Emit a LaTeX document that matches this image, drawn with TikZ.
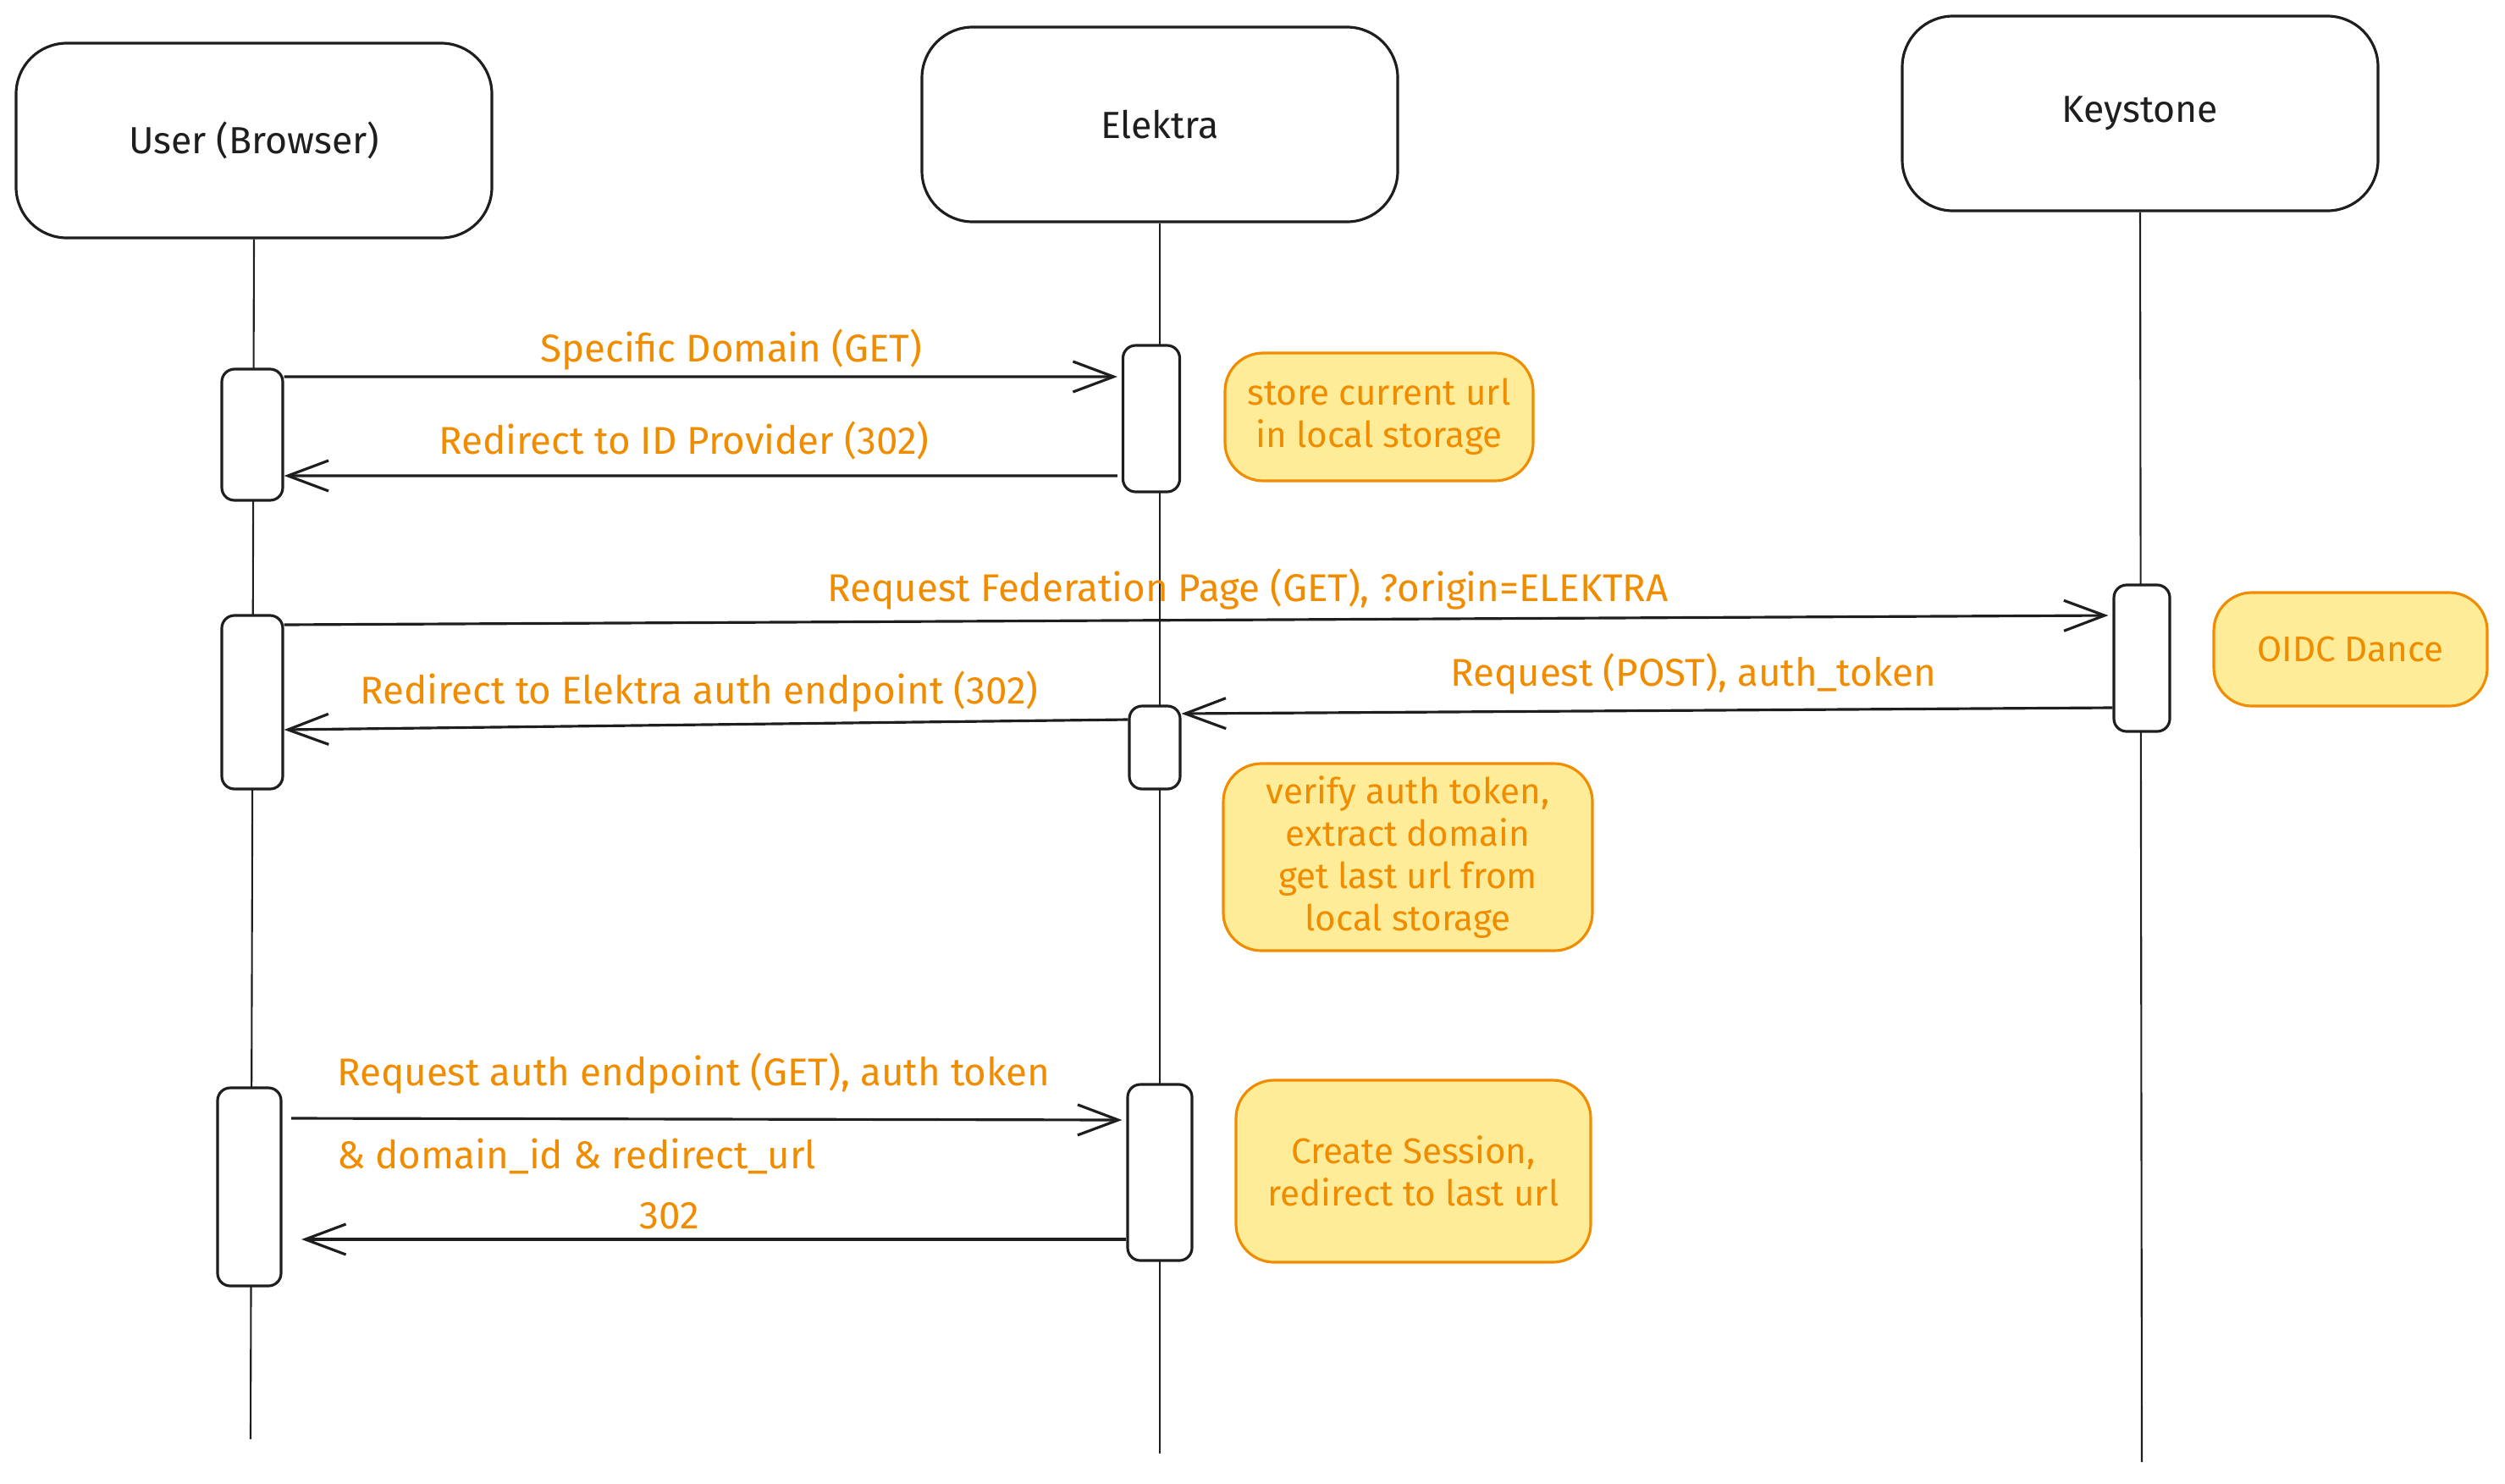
\documentclass[tikz,border=0pt]{standalone}
\usepackage{fontspec}
\setmainfont{Fira Sans}
\usetikzlibrary{positioning,arrows.meta,calc}
\definecolor{ink}{HTML}{1E1E1E}
\definecolor{accent}{HTML}{F08C00}
\definecolor{notefill}{HTML}{FFEC99}

\begin{document}
\begin{tikzpicture}[
    actor/.style={draw=ink, line width=0.9pt, rounded corners=0.6cm, minimum width=5.62cm, minimum height=2.3cm, align=center, text=ink, font=\fontsize{12.7}{15}\selectfont},
    act/.style={draw=ink, fill=white, line width=0.9pt, rounded corners=0.15cm, inner sep=0pt, minimum width=0.72cm},
    note/.style={draw=accent, fill=notefill, line width=0.9pt, rounded corners=0.45cm, inner sep=0pt, align=center, text=accent, font=\fontsize{12}{14.2}\selectfont},
    lbl/.style={text=accent, inner sep=1pt, font=\fontsize{13}{15}\selectfont},
    life/.style={draw=ink, line width=0.6pt},
    msg/.style={draw=ink, line width=0.9pt, line join=round, -{Straight Barb[length=4.8mm,width=3.6mm]}}
]
\useasboundingbox (0,0) rectangle (29.59,-17.52);

% Participants
\node[actor] (user) at (3.00,-1.66) {User (Browser)};
\node[actor] (elektra) at (13.70,-1.47) {Elektra};
\node[actor] (keystone) at (25.28,-1.34) {Keystone};

% Lifelines
\coordinate (userend) at (2.96,-17.00);
\coordinate (elektraend) at (13.70,-17.17);
\coordinate (keystoneend) at (25.30,-17.27);
\draw[life] (user.south) -- (userend);
\draw[life] (elektra.south) -- (elektraend);
\draw[life] (keystone.south) -- (keystoneend);

% Activations
\node[act, minimum height=1.55cm] (u1) at (2.98,-5.135) {};
\node[act, minimum width=0.67cm, minimum height=1.73cm] (e1) at (13.60,-4.945) {};
\node[act, minimum height=2.05cm] (u2) at (2.98,-8.295) {};
\node[act, minimum width=0.66cm, minimum height=1.73cm] (k1) at (25.30,-7.775) {};
\node[act, minimum width=0.60cm, minimum height=0.98cm] (e2) at (13.64,-8.83) {};
\node[act, minimum width=0.75cm, minimum height=2.34cm] (u3) at (2.945,-14.02) {};
\node[act, minimum width=0.76cm, minimum height=2.08cm] (e3) at (13.70,-13.85) {};

% Messages
\draw[msg] ([yshift=0.685cm]u1.east) -- ([xshift=-0.05cm,yshift=0.495cm]e1.west);
\draw[msg] ([xshift=-0.05cm,yshift=-0.675cm]e1.west) -- ([yshift=-0.485cm]u1.east);
\draw[msg] ([yshift=0.915cm]u2.east) -- ([xshift=-0.05cm,yshift=0.505cm]k1.west);
\draw[msg] ([yshift=-0.585cm]k1.west) -- ([yshift=0.40cm]e2.east);
\draw[msg] ([yshift=0.33cm]e2.west) -- ([yshift=-0.325cm]u2.east);
\draw[msg] ([xshift=0.105cm,yshift=0.81cm]u3.east) -- ([xshift=-0.05cm,yshift=0.62cm]e3.west);
\draw[msg] ([yshift=-0.79cm]e3.west) -- ([xshift=0.225cm,yshift=-0.62cm]u3.east);

% Message labels
\node[lbl] (l1) at (8.64,-4.13) {Specific Domain (GET)};
\node[lbl] (l2) at (8.08,-5.21) {Redirect to ID Provider (302)};
\node[lbl] (l3) at (14.74,-6.96) {Request Federation Page (GET), ?origin=ELEKTRA};
\node[lbl] (l4) at (20.00,-7.96) {Request (POST), auth\_token};
\node[lbl] (l5) at (8.26,-8.17) {Redirect to Elektra auth endpoint (302)};
\node[lbl, anchor=west] (l6) at (3.94,-12.68) {Request auth endpoint (GET), auth token};
\node[lbl, anchor=west] (l7) at (3.94,-13.66) {\& domain\_id \& redirect\_url};
\node[lbl] (l8) at (7.91,-14.36) {302};

% Notes
\node[note, minimum width=3.64cm, minimum height=1.51cm] (storenote) at (16.29,-4.925) {store current url\\in local storage};
\node[note, minimum width=3.23cm, minimum height=1.34cm] (oidcnote) at (27.765,-7.67) {OIDC Dance};
\node[note, minimum width=4.36cm, minimum height=2.21cm] (verifynote) at (16.63,-10.125) {verify auth token,\\extract domain\\get last url from\\local storage};
\node[note, minimum width=4.19cm, minimum height=2.15cm] (sessionnote) at (16.695,-13.835) {Create Session,\\redirect to last url};

\end{tikzpicture}
\end{document}
